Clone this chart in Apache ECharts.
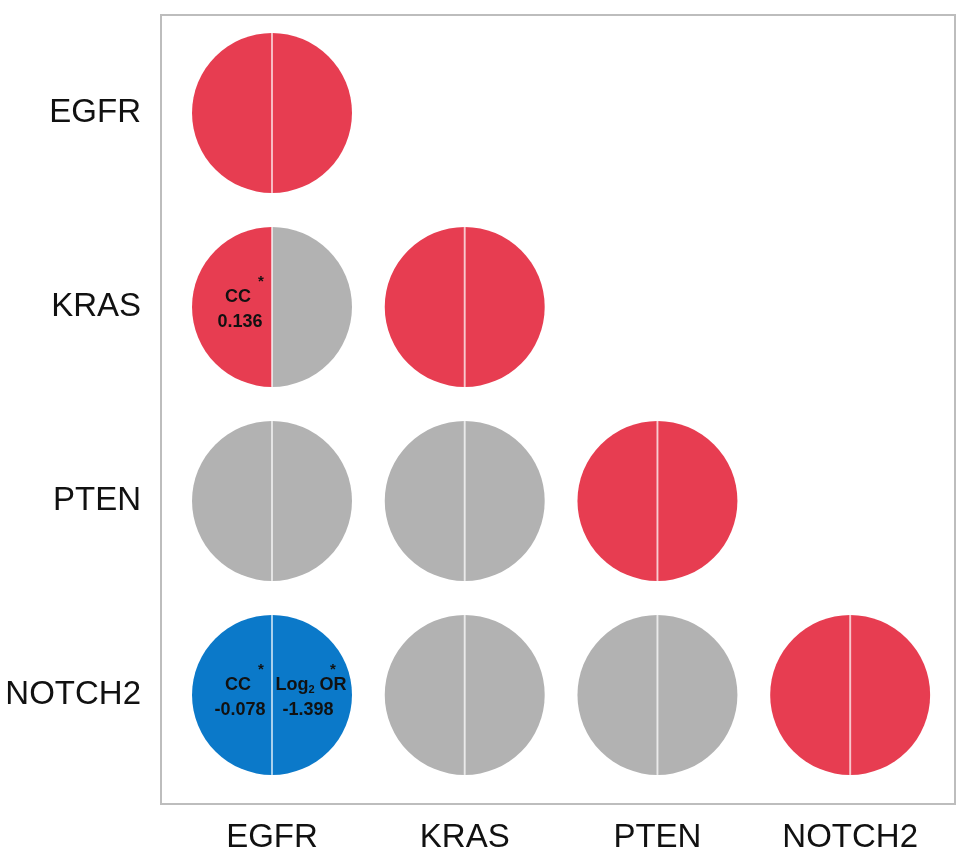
<!DOCTYPE html>
<html>
<head>
<meta charset="utf-8">
<script src="https://cdn.jsdelivr.net/npm/echarts@6/dist/echarts.min.js"></script>
<style>
  html, body { margin: 0; padding: 0; background: #fff; }
  #chart { width: 969px; height: 861px; }
</style>
</head>
<body>
<div id="chart"></div>
<script>
// genes on both axes
const genes = ['EGFR', 'KRAS', 'PTEN', 'NOTCH2']

// lower triangle: [column gene, row gene, left half state, right half state]
// state: 'pos' = positive / same gene, 'ns' = not significant, 'neg' = negative
const cells = [
  ['EGFR', 'EGFR', 'pos', 'pos'],
  ['EGFR', 'KRAS', 'pos', 'ns'],
  ['KRAS', 'KRAS', 'pos', 'pos'],
  ['EGFR', 'PTEN', 'ns', 'ns'],
  ['KRAS', 'PTEN', 'ns', 'ns'],
  ['PTEN', 'PTEN', 'pos', 'pos'],
  ['EGFR', 'NOTCH2', 'neg', 'neg'],
  ['KRAS', 'NOTCH2', 'ns', 'ns'],
  ['PTEN', 'NOTCH2', 'ns', 'ns'],
  ['NOTCH2', 'NOTCH2', 'pos', 'pos']
]

// significant statistics printed in the halves: [column, row, side, label, value]
const stats = [
  ['EGFR', 'KRAS', 'left', 'CC', '0.136'],
  ['EGFR', 'NOTCH2', 'left', 'CC', '-0.078'],
  ['EGFR', 'NOTCH2', 'right', 'Log2 OR', '-1.398']
]

const colors = { pos: '#e73d51', ns: '#b2b2b2', neg: '#0b79c9' }
const font = 'Liberation Sans, Arial, sans-serif'

const chart = echarts.init(document.getElementById('chart'))

const data = cells.map(c => [genes.indexOf(c[0]) + 1, genes.indexOf(c[1]) + 1, c[2], c[3]])

function renderItem(params, api) {
  const x = api.value(0), y = api.value(1)
  const p = api.coord([x, y])
  const sz = api.size([1, 1])
  const r = sz[0] * 0.415
  const left = data[params.dataIndex][2], right = data[params.dataIndex][3]
  const kids = [
    { type: 'sector', shape: { cx: p[0], cy: p[1], r0: 0, r: r, startAngle: Math.PI / 2, endAngle: Math.PI * 1.5, clockwise: true },
      style: { fill: colors[left] } },
    { type: 'sector', shape: { cx: p[0], cy: p[1], r0: 0, r: r, startAngle: -Math.PI / 2, endAngle: Math.PI / 2, clockwise: true },
      style: { fill: colors[right] } },
    { type: 'line', shape: { x1: p[0], y1: p[1] - r, x2: p[0], y2: p[1] + r },
      style: { stroke: 'rgba(255,255,255,0.65)', lineWidth: 2 } }
  ]
  stats.forEach(s => {
    if (genes.indexOf(s[0]) + 1 !== x || genes.indexOf(s[1]) + 1 !== y) return
    const isLeft = s[2] === 'left'
    const lx = p[0] + (isLeft ? -34 : 39)
    const vx = p[0] + (isLeft ? -32 : 36)
    const ax = p[0] + (isLeft ? -11 : 61)
    const isOr = s[3].indexOf('Log') === 0
    kids.push({ type: 'text', x: lx, y: p[1] - 10, style: {
      text: isOr ? '{a|Log}{s|2}{a| OR}' : s[3],
      rich: { a: { fontSize: 18, fontWeight: 'bold', fill: '#111', fontFamily: font }, s: { fontSize: 11, fontWeight: 'bold', fill: '#111', fontFamily: font, padding: [9, 0, 0, 0] } },
      fontSize: 18, fontWeight: 'bold', fill: '#111', align: 'center', verticalAlign: 'middle', fontFamily: font } })
    kids.push({ type: 'text', x: vx, y: p[1] + 15, style: {
      text: s[4], fontSize: 18, fontWeight: 'bold', fill: '#111', align: 'center', verticalAlign: 'middle', fontFamily: font } })
    kids.push({ type: 'text', x: ax, y: p[1] - 25, style: {
      text: '*', fontSize: 15, fontWeight: 'bold', fill: '#111', align: 'center', verticalAlign: 'middle', fontFamily: font } })
  })
  return { type: 'group', children: kids }
}

const labelStyle = { fontSize: 33, color: '#111', fontFamily: font }
const ticks = genes.map((g, i) => i + 1)

chart.setOption({
  animation: false,
  grid: { left: 161, right: 14, top: 15, bottom: 57, show: true, borderColor: '#bdbdbd', borderWidth: 2, backgroundColor: '#fff' },
  xAxis: {
    type: 'value', min: 0.424, max: 4.544,
    axisLine: { show: false }, axisTick: { show: false }, splitLine: { show: false },
    axisLabel: { ...labelStyle, margin: 17, customValues: ticks, formatter: v => genes[Math.round(v) - 1] }
  },
  yAxis: {
    type: 'value', inverse: true, min: 0.495, max: 4.562,
    axisLine: { show: false }, axisTick: { show: false }, splitLine: { show: false },
    axisLabel: { ...labelStyle, margin: 20, customValues: ticks, formatter: v => genes[Math.round(v) - 1] }
  },
  series: [{ type: 'custom', renderItem: renderItem, data: data }]
})
window.addEventListener('resize', () => chart.resize())
</script>
</body>
</html>
